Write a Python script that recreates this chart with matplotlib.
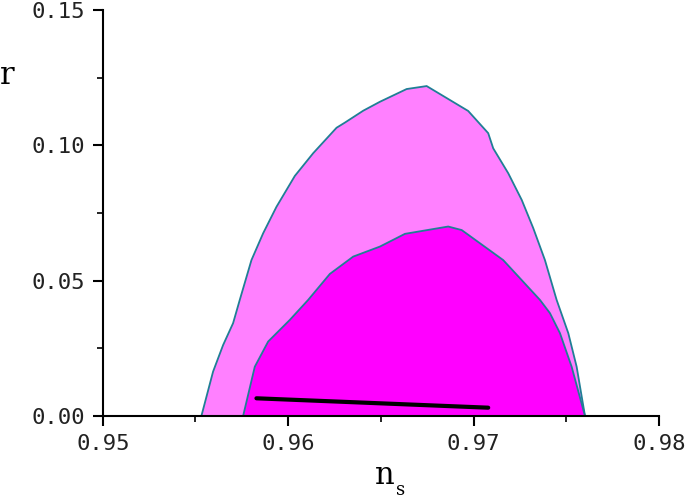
import matplotlib
matplotlib.use("Agg")
import matplotlib.pyplot as plt
from matplotlib.ticker import MultipleLocator, FormatStrFormatter

# outer (95%) contour, n_s vs r
outer_ns = [0.95532, 0.95595, 0.95649, 0.95703, 0.95739, 0.95802, 0.95865, 0.95937,
            0.96036, 0.96135, 0.96261, 0.96306, 0.96405, 0.96495, 0.96639, 0.96747,
            0.96971, 0.97079, 0.97106, 0.97187, 0.97260, 0.97322, 0.97385, 0.97448,
            0.97511, 0.97556, 0.97601]
outer_r = [0.0, 0.0164, 0.0262, 0.0343, 0.0429, 0.0576, 0.0675, 0.0773,
           0.0887, 0.0971, 0.1065, 0.1084, 0.1128, 0.1161, 0.1208, 0.1219,
           0.1127, 0.1045, 0.0989, 0.0897, 0.0798, 0.0694, 0.0576, 0.0429,
           0.0306, 0.0182, 0.0]

# inner (68%) contour
inner_ns = [0.95757, 0.95820, 0.95892, 0.96009, 0.96108, 0.96225, 0.96351, 0.96495,
            0.96630, 0.96863, 0.96936, 0.97160, 0.97358, 0.97412, 0.97466, 0.97529,
            0.97601]
inner_r = [0.0, 0.0182, 0.0275, 0.0355, 0.0429, 0.0525, 0.0589, 0.0626,
           0.0673, 0.0700, 0.0687, 0.0576, 0.0429, 0.0380, 0.0306, 0.0182,
           0.0]

# model prediction
model_ns = [0.95829, 0.97079]
model_r = [0.00654, 0.00307]

fig = plt.figure(figsize=(6.85, 5.0), dpi=100)
ax = fig.add_axes([0.150, 0.168, 0.812, 0.812])

edge = '#1f7f95'
ax.fill(outer_ns, outer_r, facecolor='#ff80ff', edgecolor=edge, linewidth=1.3, zorder=1)
ax.fill(inner_ns, inner_r, facecolor='#ff00ff', edgecolor=edge, linewidth=1.3, zorder=2)
ax.plot(model_ns, model_r, color='black', linewidth=3, solid_capstyle='round', zorder=3)

ax.set_xlim(0.95, 0.98)
ax.set_ylim(0.0, 0.15)

for s in ['top', 'right']:
    ax.spines[s].set_visible(False)
for s in ['left', 'bottom']:
    ax.spines[s].set_linewidth(1.5)

ax.xaxis.set_major_locator(MultipleLocator(0.01))
ax.xaxis.set_minor_locator(MultipleLocator(0.005))
ax.yaxis.set_major_locator(MultipleLocator(0.05))
ax.yaxis.set_minor_locator(MultipleLocator(0.025))
ax.xaxis.set_major_formatter(FormatStrFormatter('%.2f'))
ax.yaxis.set_major_formatter(FormatStrFormatter('%.2f'))
ax.tick_params(which='major', direction='out', length=7, width=1.5, labelsize=16, pad=6,
               labelcolor='#222222')
ax.tick_params(which='minor', direction='out', length=4, width=1.2)
for lab in ax.get_xticklabels() + ax.get_yticklabels():
    lab.set_family('DejaVu Sans Mono')

fig.text(0.0, 0.85, 'r', fontsize=22, family='DejaVu Serif', ha='left', va='center')
fig.text(0.562, 0.048, 'n', fontsize=22, family='DejaVu Serif', ha='center', va='center')
fig.text(0.585, 0.020, 's', fontsize=13, family='DejaVu Serif', ha='center', va='center')

fig.savefig('out.png', dpi=100)
